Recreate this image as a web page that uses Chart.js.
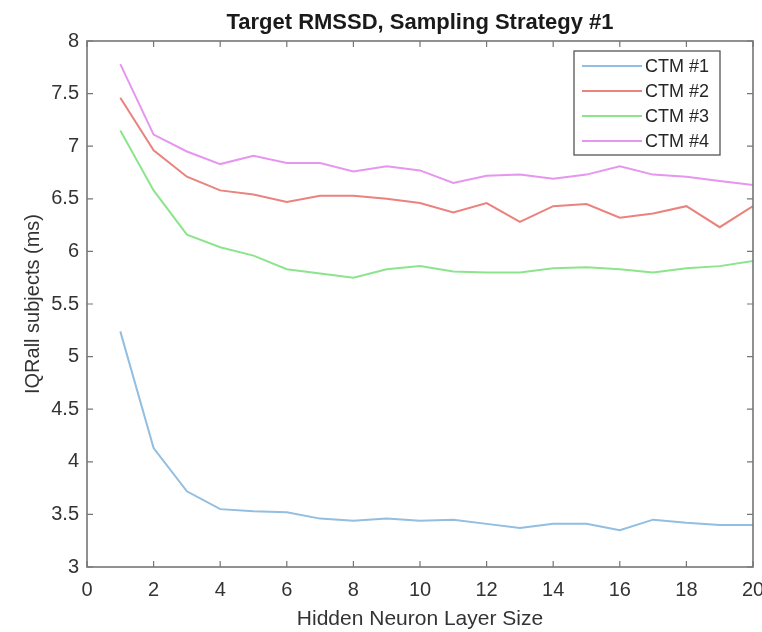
<!DOCTYPE html>
<html>
<head>
<meta charset="utf-8">
<script src="https://cdn.jsdelivr.net/npm/chart.js@4"></script>
<style>
  html, body { margin: 0; padding: 0; background: #fff; }
  #wrap { width: 762px; height: 632px; }
</style>
</head>
<body>
<div id="wrap"><canvas id="rmssd-chart" width="762" height="632"></canvas></div>
<script>
const layerSizes = [1, 2, 3, 4, 5, 6, 7, 8, 9, 10, 11, 12, 13, 14, 15, 16, 17, 18, 19, 20];
const ctm1 = [5.24, 4.13, 3.72, 3.55, 3.53, 3.52, 3.46, 3.44, 3.46, 3.44, 3.45, 3.41, 3.37, 3.41, 3.41, 3.35, 3.45, 3.42, 3.40, 3.40];
const ctm2 = [7.46, 6.96, 6.71, 6.58, 6.54, 6.47, 6.53, 6.53, 6.50, 6.46, 6.37, 6.46, 6.28, 6.43, 6.45, 6.32, 6.36, 6.43, 6.23, 6.43];
const ctm3 = [7.15, 6.58, 6.16, 6.04, 5.96, 5.83, 5.79, 5.75, 5.83, 5.86, 5.81, 5.80, 5.80, 5.84, 5.85, 5.83, 5.80, 5.84, 5.86, 5.91];
const ctm4 = [7.78, 7.11, 6.95, 6.83, 6.91, 6.84, 6.84, 6.76, 6.81, 6.77, 6.65, 6.72, 6.73, 6.69, 6.73, 6.81, 6.73, 6.71, 6.67, 6.63];
const seriesNames = ['CTM #1', 'CTM #2', 'CTM #3', 'CTM #4'];
const seriesColors = ['rgb(145, 190, 225)', 'rgb(234, 130, 125)', 'rgb(140, 228, 140)', 'rgb(230, 150, 238)'];
const chartTitle = 'Target RMSSD, Sampling Strategy #1';

const fontFamily = 'Arial, "Liberation Sans", Helvetica, sans-serif';

let makeSeries = function (values) {
    return values.map(function (v, i) {
        return { x: layerSizes[i], y: v };
    });
};

// matlab style box, inward ticks, title over the axes and legend
const boxPlugin = {
    id: 'matlabBox',
    afterDraw: function (chart) {
        let ctx = chart.ctx;
        let a = chart.chartArea;
        let xs = chart.scales.x;
        let ys = chart.scales.y;
        ctx.save();
        ctx.strokeStyle = '#767676';
        ctx.lineWidth = 1.6;
        ctx.strokeRect(a.left, a.top, a.right - a.left, a.bottom - a.top);

        ctx.lineWidth = 1.2;
        ctx.beginPath();
        xs.ticks.forEach(function (t) {
            let px = xs.getPixelForValue(t.value);
            ctx.moveTo(px, a.bottom); ctx.lineTo(px, a.bottom - 6);
            ctx.moveTo(px, a.top); ctx.lineTo(px, a.top + 6);
        });
        ys.ticks.forEach(function (t) {
            let py = ys.getPixelForValue(t.value);
            ctx.moveTo(a.left, py); ctx.lineTo(a.left + 6, py);
            ctx.moveTo(a.right, py); ctx.lineTo(a.right - 6, py);
        });
        ctx.stroke();

        // title, centred on the axes like matlab does
        ctx.fillStyle = '#1a1a1a';
        ctx.font = 'bold 22px ' + fontFamily;
        ctx.textAlign = 'center';
        ctx.textBaseline = 'middle';
        ctx.fillText(chartTitle, (a.left + a.right) / 2, a.top - 18);

        // legend
        let lx = a.right - 179, ly = a.top + 10, lw = 146, lh = 104;
        ctx.fillStyle = '#fff';
        ctx.fillRect(lx, ly, lw, lh);
        ctx.strokeStyle = '#555';
        ctx.lineWidth = 1.3;
        ctx.strokeRect(lx, ly, lw, lh);
        ctx.font = '18px ' + fontFamily;
        ctx.textAlign = 'left';
        chart.data.datasets.forEach(function (ds, i) {
            let ry = ly + 15 + i * 25;
            ctx.strokeStyle = ds.borderColor;
            ctx.lineWidth = 2;
            ctx.beginPath();
            ctx.moveTo(lx + 8, ry);
            ctx.lineTo(lx + 68, ry);
            ctx.stroke();
            ctx.fillStyle = '#262626';
            ctx.fillText(ds.label, lx + 71, ry + 1);
        });
        ctx.restore();
    }
};

let datasets = [ctm1, ctm2, ctm3, ctm4].map(function (vals, i) {
    return {
        label: seriesNames[i],
        data: makeSeries(vals),
        borderColor: seriesColors[i],
        backgroundColor: seriesColors[i],
        borderWidth: 2,
        pointRadius: 0,
        tension: 0,
        fill: false
    };
});

let ctx = document.getElementById('rmssd-chart').getContext('2d');
window.rmssdChart = new Chart(ctx, {
    type: 'line',
    data: { datasets: datasets },
    options: {
        responsive: false,
        animation: false,
        layout: { padding: { left: 0, right: 9, top: 41, bottom: 0 } },
        plugins: {
            legend: { display: false },
            tooltip: { enabled: false },
            title: { display: false }
        },
        scales: {
            x: {
                type: 'linear',
                min: 0,
                max: 20,
                grid: { display: false, drawTicks: false },
                border: { display: false },
                ticks: {
                    stepSize: 2,
                    color: '#333',
                    padding: 11,
                    maxRotation: 0,
                    font: { family: fontFamily, size: 20 }
                },
                title: {
                    display: true,
                    text: 'Hidden Neuron Layer Size',
                    color: '#333',
                    font: { family: fontFamily, size: 21 },
                    padding: { top: 0, bottom: 0 }
                },
                afterFit: function (scale) {
                    scale.height = 65;
                    scale.paddingLeft = 0;
                    scale.paddingRight = 0;
                }
            },
            y: {
                min: 3,
                max: 8,
                grid: { display: false, drawTicks: false },
                border: { display: false },
                ticks: {
                    stepSize: 0.5,
                    color: '#333',
                    padding: 8,
                    font: { family: fontFamily, size: 20 },
                    callback: function (value) { return String(value); }
                },
                title: {
                    display: true,
                    text: 'IQRall subjects (ms)',
                    color: '#333',
                    font: { family: fontFamily, size: 20 },
                    padding: { top: 21, bottom: 4 }
                },
                afterFit: function (scale) {
                    scale.width = 87;
                    scale.paddingTop = 0;
                    scale.paddingBottom = 0;
                }
            }
        }
    },
    plugins: [boxPlugin]
});
</script>
</body>
</html>
